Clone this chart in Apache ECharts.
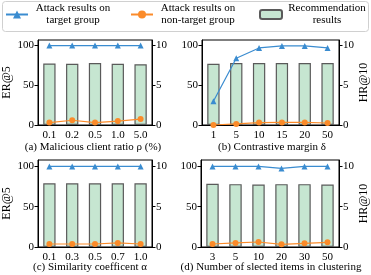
<!DOCTYPE html>
<html>
<head>
<meta charset="utf-8">
<script src="https://cdn.jsdelivr.net/npm/echarts@6/dist/echarts.min.js"></script>
<style>html,body{margin:0;padding:0;background:#fff}#c{width:371px;height:275px}</style>
</head>
<body>
<div id="c"></div>
<script>
// ---- data ----
var catsA = ['0.1','0.2','0.5','1.0','5.0'];
var targetA = [100,100,100,100,100];
var nonTargetA = [3,6,3,5,7.5];
var recA = [7.75,7.7,7.8,7.7,7.65];

var catsB = ['1','5','10','15','20','50'];
var targetB = [30,84,97,99.5,99.5,97];
var nonTargetB = [0,1.3,3,3.3,3.3,2.5];
var recB = [7.7,7.8,7.8,7.8,7.8,7.8];

var catsC = ['0.1','0.3','0.5','0.7','1.0'];
var targetC = [100,100,100,100,100];
var nonTargetC = [3.7,3.7,3.7,5,3.7];
var recC = [7.9,7.9,7.9,7.9,7.9];

var catsD = ['3','5','10','20','30','50'];
var targetD = [100,100,100,97.5,100,100];
var nonTargetD = [3.7,5,6.2,3.3,4.6,5.8];
var recD = [7.85,7.8,7.75,7.8,7.8,7.75];

var leftTicks = [0,50,100];
var rightTicks = [0,5,10];
var captions = ['(a) Malicious client ratio \u03c1 (%)','(b) Contrastive margin \u03b4','(c) Similarity coefficent \u03b1','(d) Number of slected items in clustering'];
var nameT = 'Attack results on target group';
var nameN = 'Attack results on non-target group';
var nameR = 'Recommendation results';

// ---- styles ----
var FONT = 'Liberation Serif';
var BLUE = '#3a8cd0', ORANGE = '#fb8b2a', GREEN = '#c6e6d1', EDGE = '#5a5a5a';

var panels = [
  {cats: catsA, t: targetA, n: nonTargetA, r: recA, grid: {left: 35, top: 40, width: 117, height: 85}, lmax: 107, rmax: 10.7, lname: 'ER@5', rname: ''},
  {cats: catsB, t: targetB, n: nonTargetB, r: recB, grid: {left: 202, top: 40, width: 140, height: 85}, lmax: 107, rmax: 10.7, lname: '', rname: 'HR@10'},
  {cats: catsC, t: targetC, n: nonTargetC, r: recC, grid: {left: 35, top: 160, width: 117, height: 87}, lmax: 108, rmax: 10.8, lname: 'ER@5', rname: ''},
  {cats: catsD, t: targetD, n: nonTargetD, r: recD, grid: {left: 201, top: 160, width: 141, height: 87}, lmax: 108, rmax: 10.8, lname: '', rname: 'HR@10'}
];

var grids = [], xAxes = [], yAxes = [], series = [];
var lbl = {fontFamily: FONT, fontSize: 11, color: '#000'};
panels.forEach(function (p, i) {
  grids.push(Object.assign({show: true, borderColor: '#000', borderWidth: 1, backgroundColor: 'transparent'}, p.grid));
  xAxes.push({type: 'category', gridIndex: i, data: p.cats, boundaryGap: true,
    axisLine: {lineStyle: {color: '#000', width: 1}},
    axisTick: {alignWithLabel: true, length: 3.5, lineStyle: {color: '#000'}},
    axisLabel: Object.assign({margin: 5}, lbl), splitLine: {show: false}});
  yAxes.push({type: 'value', gridIndex: i, position: 'left', min: 0, max: p.lmax,
    name: p.lname, nameLocation: 'middle', nameGap: 25, nameTextStyle: {fontFamily: FONT, fontSize: 12, color: '#000'},
    axisLine: {show: true, lineStyle: {color: '#000'}},
    axisTick: {show: true, length: 3.5, customValues: leftTicks, lineStyle: {color: '#000'}},
    axisLabel: Object.assign({margin: 4, customValues: leftTicks}, lbl), splitLine: {show: false}});
  yAxes.push({type: 'value', gridIndex: i, position: 'right', min: 0, max: p.rmax,
    name: p.rname, nameLocation: 'middle', nameGap: 19, nameRotate: 90, nameTextStyle: {fontFamily: FONT, fontSize: 12, color: '#000'},
    axisLine: {show: true, lineStyle: {color: '#000'}},
    axisTick: {show: true, length: 3.5, customValues: rightTicks, lineStyle: {color: '#000'}},
    axisLabel: Object.assign({margin: 4, customValues: rightTicks}, lbl), splitLine: {show: false}});
  series.push({name: nameR, type: 'bar', xAxisIndex: i, yAxisIndex: 2 * i + 1, data: p.r, barWidth: '54%',
    itemStyle: {color: GREEN, borderColor: EDGE, borderWidth: 1.2}, z: 1});
  series.push({name: nameT, type: 'line', xAxisIndex: i, yAxisIndex: 2 * i, data: p.t, symbol: 'triangle', symbolSize: 6,
    itemStyle: {color: BLUE}, lineStyle: {color: BLUE, width: 1.2}, z: 3});
  series.push({name: nameN, type: 'line', xAxisIndex: i, yAxisIndex: 2 * i, data: p.n, symbol: 'circle', symbolSize: 6,
    itemStyle: {color: ORANGE}, lineStyle: {color: ORANGE, width: 1.2}, z: 3});
});

var rich = {t: {width: 80, align: 'center', fontFamily: FONT, fontSize: 11, lineHeight: 12, color: '#000'}};
function legendFmt(name) {
  if (name === nameT) return '{t|Attack results on}\n{t|target group}';
  if (name === nameN) return '{t|Attack results on}\n{t|non-target group}';
  return '{t|Recommendation}\n{t|results}';
}
function mkLegend(name, left, ih) {
  return {data: [name], left: left, top: 3, itemWidth: 22, itemHeight: ih, itemGap: 0, itemTextGap: 5,
    padding: 0, formatter: legendFmt, textStyle: {rich: rich, fontFamily: FONT, fontSize: 11}, selectedMode: false};
}

var capPos = [[93, 147], [272, 147], [90, 267], [271, 267]];
var graphics = [{type: 'rect', left: 2, top: 1, shape: {width: 366, height: 30, r: 3}, style: {fill: '#fff', stroke: '#d0d0d0', lineWidth: 1}, z: -1}];
captions.forEach(function (c, i) {
  graphics.push({type: 'text', x: capPos[i][0], y: capPos[i][1], style: {text: c, fontFamily: FONT, fontSize: 11, fill: '#000', align: 'center', verticalAlign: 'middle'}});
});

var chart = echarts.init(document.getElementById('c'), null, {renderer: 'canvas'});
chart.setOption({
  animation: false,
  backgroundColor: '#fff',
  legend: [mkLegend(nameT, 5, 10), mkLegend(nameN, 130, 10), mkLegend(nameR, 259, 9)],
  grid: grids, xAxis: xAxes, yAxis: yAxes, series: series, graphic: graphics
});
</script>
</body>
</html>
